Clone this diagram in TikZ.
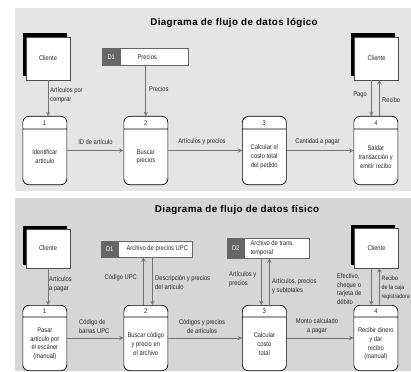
\documentclass[tikz,border=0pt]{standalone}
\usepackage{fontspec}
\setmainfont{Liberation Sans}[FakeStretch=0.85]
\newfontfamily\titlefont{Liberation Sans}[LetterSpace=4]
\usetikzlibrary{arrows,shapes.multipart,shadows}

\tikzset{
  proc/.style={draw, line width=0.7pt, rounded corners=6pt, fill=white,
    rectangle split, rectangle split parts=2, inner sep=0pt, anchor=north west},
  store/.style={draw=black!60, line width=0.4pt, rectangle split,
    rectangle split horizontal, rectangle split parts=2,
    rectangle split part fill={black!60,white}, inner sep=0pt, anchor=north west},
  ext/.style={draw=black!70, fill=white, line width=0.4pt, minimum width=44pt,
    minimum height=43pt, inner sep=0pt,
    general shadow={fill=black, shadow xshift=-3.5pt, shadow yshift=3.5pt}},
  flow/.style={->, >=stealth, draw=black!55, line width=0.9pt},
  lbl/.style={align=left, inner sep=0pt},
  heading/.style={text=black, font=\titlefont\bfseries\fontsize{9.8}{11}\selectfont}
}

\begin{document}
\begin{tikzpicture}[x=1pt, y=-1pt, font=\fontsize{6.8}{8.8}\selectfont, text=black!85]
\path[fill=white, use as bounding box] (0,0) rectangle (411,371);
\fill[black!10] (15,8) rectangle (411,191);
\fill[black!16] (15,198) rectangle (411,371);

\node[heading] (ti1) at (234,23) {Diagrama de flujo de datos lógico};

\node[ext] (c1) at (48,58.5) {Cliente};

\node[ext] (c2) at (376.5,58.5) {Cliente};

\node[store] (s1) at (102,48) {\parbox[c][17pt][c]{18pt}{\centering\color{white}D1}\nodepart{two}\parbox[c][17pt][c]{68pt}{\hspace*{17pt}Precios}};

\node[proc] (l1) at (22.5,116) {\parbox[c][12pt][c]{44pt}{\centering 1}\nodepart{two}\parbox[c][55pt][c]{44pt}{\centering Identificar\\artículo}};

\node[proc] (l2) at (123.5,116) {\parbox[c][12pt][c]{44pt}{\centering 2}\nodepart{two}\parbox[c][55pt][c]{44pt}{\centering Buscar\\precios}};

\node[proc] (l3) at (242,116) {\parbox[c][12pt][c]{44pt}{\centering 3}\nodepart{two}\parbox[c][55pt][c]{44pt}{\centering Calcular el\\costo total\\del pedido}};

\node[proc] (l4) at (353.5,116) {\parbox[c][12pt][c]{44pt}{\centering 4}\nodepart{two}\parbox[c][55pt][c]{44pt}{\centering Saldar\\transacción y\\emitir recibo}};

\draw[flow] (c1.south) -- (c1.south |- l1.north);
\draw[flow] (s1.south -| l2.north) -- (l2.north);
\draw[flow] (l1.east) -- (l2.west);
\draw[flow] (l2.east) -- (l3.west);
\draw[flow] (l3.east) -- (l4.west);
\draw[flow] ([xshift=-4.5pt]l4.north |- c2.south) -- ([xshift=-4.5pt]l4.north);
\draw[flow] ([xshift=3.5pt]l4.north) -- ([xshift=3.5pt]l4.north |- c2.south);

\node[lbl, anchor=west] (a1) at (50,95) {Artículos por\\comprar};
\node[lbl, anchor=west] (a2) at (149,89) {Precios};
\node[lbl] (a3) at (95.5,142) {ID de artículo};
\node[lbl] (a4) at (202,142) {Artículos y precios};
\node[lbl] (a5) at (317.5,142) {Cantidad a pagar};
\node[lbl, anchor=east] (a6) at (367,95) {Pago};
\node[lbl, anchor=west] (a7) at (382,100) {Recibo};

\node[heading] (ti2) at (237,210) {Diagrama de flujo de datos físico};

\node[ext, minimum height=39pt] (c3) at (48,248.5) {Cliente};

\node[ext, minimum height=40pt] (c4) at (376.5,248) {Cliente};

\node[store] (s2) at (101,241) {\parbox[c][16pt][c]{17pt}{\centering\color{white}D1}\nodepart{two}\parbox[c][16pt][c]{74pt}{\hspace*{8pt}Archivo de precios UPC}};

\node[store] (s3) at (227,238) {\parbox[c][20pt][c]{17pt}{\centering\color{white}D2}\nodepart{two}\parbox[c][20pt][c]{65pt}{\raggedright\leftskip=6pt Archivo de trans.\\temporal}};

\node[proc] (p1) at (22.5,305) {\parbox[c][11pt][c]{44pt}{\centering 1}\nodepart{two}\parbox[c][53pt][c]{44pt}{\centering Pasar\\artículo por\\el escáner\\(manual)}};

\node[proc] (p2) at (123.5,305) {\parbox[c][11pt][c]{44pt}{\centering 2}\nodepart{two}\parbox[c][53pt][c]{44pt}{\centering Buscar código\\y precio en\\el archivo}};

\node[proc] (p3) at (242,305) {\parbox[c][11pt][c]{44pt}{\centering 3}\nodepart{two}\parbox[c][53pt][c]{44pt}{\centering Calcular\\costo\\total}};

\node[proc] (p4) at (353.5,305) {\parbox[c][11pt][c]{44pt}{\centering 4}\nodepart{two}\parbox[c][53pt][c]{44pt}{\centering Recibir dinero\\y dar\\recibo\\(manual)}};

\draw[flow] (c3.south) -- (c3.south |- p1.north);
\draw[flow] ([xshift=-2.5pt]p2.north) -- ([xshift=-2.5pt]p2.north |- s2.south);
\draw[flow] ([xshift=6.5pt]p2.north |- s2.south) -- ([xshift=6.5pt]p2.north);
\draw[flow] ([xshift=-3pt]p3.north |- s3.south) -- ([xshift=-3pt]p3.north);
\draw[flow] ([xshift=5pt]p3.north) -- ([xshift=5pt]p3.north |- s3.south);
\draw[flow] (p1.east) -- (p2.west);
\draw[flow] (p2.east) -- (p3.west);
\draw[flow] (p3.east) -- (p4.west);
\draw[flow] ([xshift=-4.5pt]p4.north |- c4.south) -- ([xshift=-4.5pt]p4.north);
\draw[flow] ([xshift=3.5pt]p4.north) -- ([xshift=3.5pt]p4.north |- c4.south);

\node[lbl, anchor=west] (b1) at (49,284.5) {Artículos\\a pagar};
\node[lbl, anchor=west] (b2) at (79,326.5) {Código de\\barras UPC};
\node[lbl, anchor=east] (b3) at (137,278) {Código UPC};
\node[lbl, anchor=west] (b4) at (155,282.5) {Descripción y precios\\del artículo};
\node[lbl, align=center] (b5) at (202,326.5) {Códigos y precios\\de artículos};
\node[lbl, anchor=west] (b6) at (229,279) {Artículos y\\precios};
\node[lbl, anchor=west] (b7) at (272,286.5) {Artículos, precios\\y subtotales};
\node[lbl, align=center] (b8) at (317,326.5) {Monto calculado\\a pagar};
\node[lbl, anchor=west] (b9) at (337,289) {Efectivo,\\cheque o\\tarjeta de\\débito};
\node[lbl, anchor=west, font=\fontsize{6.2}{8.8}\selectfont] (b10) at (381.5,288) {Recibo\\de la caja\\registradora};
\end{tikzpicture}
\end{document}
